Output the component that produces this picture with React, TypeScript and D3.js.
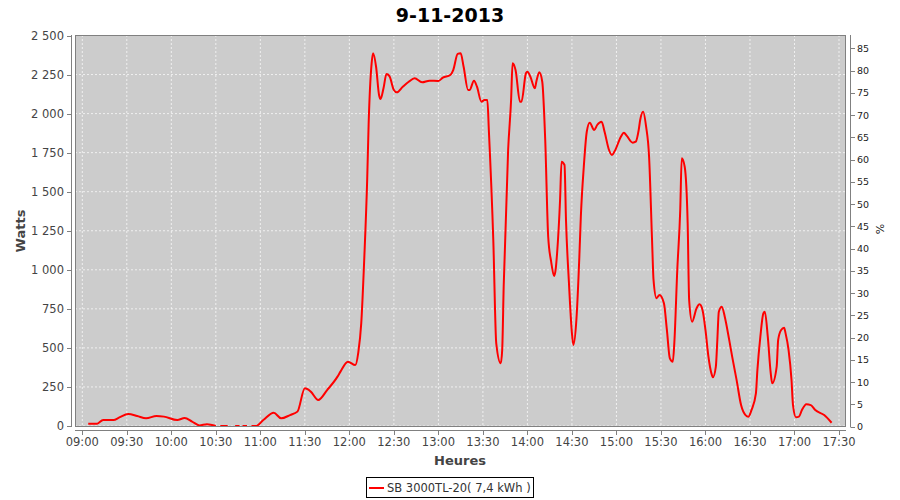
import React from "react";
import * as d3 from "d3";

const title = "9-11-2013";
const legendLabel = "SB 3000TL-20( 7,4 kWh )";
const xTickLabels = ["09:00","09:30","10:00","10:30","11:00","11:30","12:00","12:30","13:00","13:30","14:00","14:30","15:00","15:30","16:00","16:30","17:00","17:30"];
const leftTicks = [0, 250, 500, 750, 1000, 1250, 1500, 1750, 2000, 2250, 2500];
const rightTicks = [0, 5, 10, 15, 20, 25, 30, 35, 40, 45, 50, 55, 60, 65, 70, 75, 80, 85];

const times = [
  "09:04","09:10","09:14","09:21","09:25","09:31","09:37","09:43","09:50","09:55",
  "10:04","10:09","10:14","10:19","10:24","10:30","10:31","10:33","10:38","10:40",
  "10:43","10:46","10:47","10:48","10:51","10:52","10:54","10:57","11:02","11:09",
  "11:14","11:20","11:25","11:30","11:34","11:39","11:45","11:52","11:54","11:59",
  "12:04","12:06","12:08","12:10","12:12","12:13","12:15","12:16","12:18","12:20",
  "12:21","12:23","12:25","12:27","12:30","12:32","12:36","12:40","12:44","12:49",
  "12:54","13:00","13:03","13:08","13:10","13:13","13:15","13:17","13:20","13:21",
  "13:24","13:26","13:29","13:31","13:33","13:34","13:37","13:39","13:42","13:43",
  "13:44","13:47","13:49","13:50","13:52","13:55","13:56","13:59","14:00","14:02",
  "14:05","14:06","14:08","14:10","14:12","14:14","14:16","14:18","14:19","14:20",
  "14:22","14:23","14:25","14:26","14:28","14:30","14:31","14:33","14:35","14:36",
  "14:38","14:40","14:42","14:45","14:47","14:50","14:52","14:55","14:57","14:59",
  "15:03","15:05","15:07","15:11","15:13","15:15","15:16","15:18","15:20","15:22",
  "15:24","15:25","15:27","15:29","15:32","15:34","15:36","15:38","15:39","15:41",
  "15:43","15:44","15:46","15:48","15:49","15:51","15:54","15:56","15:58","16:00",
  "16:02","16:04","16:05","16:07","16:08","16:09","16:11","16:13","16:16","16:18",
  "16:21","16:24","16:27","16:29","16:31","16:34","16:35","16:37","16:39","16:40",
  "16:42","16:44","16:45","16:48","16:49","16:51","16:53","16:54","16:56","16:58",
  "16:59","17:01","17:03","17:05","17:08","17:11","17:14","17:20","17:25"
];
const watts: (number | null)[] = [
  15, 15, 38, 38, 55, 77, 64, 49, 64, 60,
  38, 51, 28, 4, 11, 0, null, 0, 0, null,
  0, 0, null, 0, 0, null, 0, 0, 38, 85,
  49, 70, 92, 241, 220, 166, 230, 316, 348, 412,
  390, 470, 657, 1063, 1575, 1938, 2322, 2386, 2300, 2119,
  2093, 2162, 2253, 2240, 2151, 2136, 2172, 2204, 2226, 2200,
  2211, 2209, 2230, 2247, 2279, 2382, 2386, 2300, 2151, 2151,
  2211, 2172, 2076, 2087, 2087, 1895, 1191, 529, 401, 487,
  892, 1767, 2087, 2322, 2279, 2076, 2076, 2258, 2268, 2236,
  2162, 2204, 2264, 2204, 1831, 1212, 1052, 960, 999, 1106,
  1447, 1692, 1671, 1319, 914, 594, 519, 679, 1084, 1340,
  1660, 1884, 1942, 1895, 1927, 1948, 1884, 1767, 1735, 1763,
  1852, 1878, 1857, 1814, 1820, 1895, 1959, 2012, 1916, 1724,
  1191, 935, 818, 839, 786, 615, 433, 412, 529, 999,
  1383, 1714, 1660, 1298, 807, 668, 754, 779, 743, 615,
  444, 337, 312, 380, 551, 732, 764, 700, 551, 444,
  294, 134, 70, 60, 102, 209, 358, 572, 721, 732,
  572, 337, 273, 380, 551, 615, 629, 593, 487, 294,
  134, 56, 60, 102, 139, 134, 102, 70, 21
];

const toMin = (s: string) => +s.slice(0, 2) * 60 + +s.slice(3);

export default function App() {
  const W = 900, H = 500;
  const plotL = 75, plotR = 846, plotT = 35, plotB = 427;
  const x = d3.scaleLinear().domain([toMin("09:00"), toMin("17:30")]).range([82.3, 839]);
  const y = d3.scaleLinear().domain([0, 2500]).range([426, 35.5]);
  const y2 = d3.scaleLinear().domain([0, 85]).range([426.7, 48.3]);
  const fmt = (v: number) => d3.format(",")(v).replace(/,/g, " ");

  const pts = times.map((t, i) => ({ t: toMin(t), v: watts[i] }));
  const line = d3.line<{ t: number; v: number | null }>()
    .defined(d => d.v !== null)
    .curve(d3.curveMonotoneX)
    .x(d => x(d.t))
    .y(d => y(d.v as number));

  const font = "'DejaVu Sans', sans-serif";
  const tickColor = "#444";
  const axisColor = "#808080";

  return (
    <svg width={W} height={H} style={{ position: "absolute", left: 0, top: 0 }} fontFamily={font}>
      <rect x={0} y={0} width={W} height={H} fill="#ffffff" />
      <text x={450} y={22} textAnchor="middle" fontSize={19} fontWeight="bold" fill="#000">{title}</text>

      <defs>
        <clipPath id="pc"><rect x={plotL} y={plotT} width={plotR - plotL} height={plotB - plotT} /></clipPath>
      </defs>
      <rect x={plotL} y={plotT} width={plotR - plotL} height={plotB - plotT} fill="#cccccc" />
      <g clipPath="url(#pc)">
        {xTickLabels.map(l => (
          <line key={"gx" + l} x1={x(toMin(l))} x2={x(toMin(l))} y1={plotT} y2={plotB} stroke="#ffffff" strokeOpacity={0.7} strokeWidth={1} strokeDasharray="2,2" />
        ))}
        {leftTicks.map(v => (
          <line key={"gy" + v} x1={plotL} x2={plotR} y1={y(v)} y2={y(v)} stroke="#ffffff" strokeOpacity={0.7} strokeWidth={1} strokeDasharray="2,2" />
        ))}
      </g>
      <path d={line(pts) || ""} fill="none" stroke="#ff0000" strokeWidth={2} strokeLinejoin="round" clipPath="url(#pc)" />
      <rect x={plotL + 0.5} y={plotT + 0.5} width={plotR - plotL - 1} height={plotB - plotT - 1} fill="none" stroke={axisColor} strokeWidth={1} />

      {/* left axis */}
      <line x1={71.5} x2={71.5} y1={plotT} y2={plotB} stroke={axisColor} />
      {leftTicks.map(v => (
        <g key={"lt" + v}>
          <line x1={67} x2={71.5} y1={Math.round(y(v)) + 0.5} y2={Math.round(y(v)) + 0.5} stroke={axisColor} />
          <text x={64} y={y(v) + 4} textAnchor="end" fontSize={11.5} fill={tickColor}>{fmt(v)}</text>
        </g>
      ))}
      <text transform={`translate(25,231) rotate(-90)`} textAnchor="middle" fontSize={13} fontWeight="bold" fill={tickColor}>Watts</text>

      {/* bottom axis */}
      <line x1={plotL} x2={plotR} y1={430.5} y2={430.5} stroke={axisColor} />
      {xTickLabels.map(l => (
        <g key={"xt" + l}>
          <line x1={Math.round(x(toMin(l))) + 0.5} x2={Math.round(x(toMin(l))) + 0.5} y1={430.5} y2={435} stroke={axisColor} />
          <text x={x(toMin(l))} y={446} textAnchor="middle" fontSize={11.5} fill={tickColor}>{l}</text>
        </g>
      ))}
      <text x={460} y={465} textAnchor="middle" fontSize={13} fontWeight="bold" fill={tickColor}>Heures</text>

      {/* right axis */}
      <line x1={850.5} x2={850.5} y1={plotT} y2={plotB} stroke={axisColor} />
      {rightTicks.map(v => (
        <g key={"rt" + v}>
          <line x1={850.5} x2={855} y1={Math.round(y2(v)) + 0.5} y2={Math.round(y2(v)) + 0.5} stroke={axisColor} />
          <text x={857} y={y2(v) + 3.5} textAnchor="start" fontSize={9.5} fill="#222">{v}</text>
        </g>
      ))}
      <text transform={`translate(884,229) rotate(-90)`} textAnchor="middle" fontSize={11} fill="#222">%</text>

      {/* legend */}
      <rect x={366.5} y={477.5} width={167} height={20} fill="#fff" stroke="#000" strokeWidth={1} />
      <line x1={369} x2={384} y1={488} y2={488} stroke="#ff0000" strokeWidth={2} />
      <text x={387} y={492} fontSize={11.5} fill="#333">{legendLabel}</text>
    </svg>
  );
}
